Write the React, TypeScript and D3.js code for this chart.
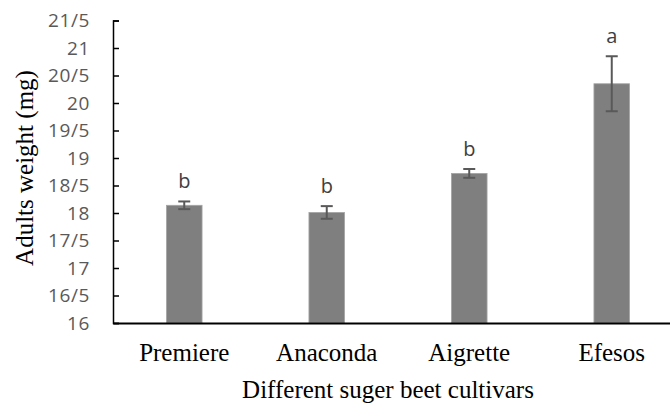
import * as d3 from "d3";
import { useEffect, useRef } from "react";

const cultivars = ["Premiere", "Anaconda", "Aigrette", "Efesos"];
const weights = [18.14, 18.01, 18.72, 20.35];
const errors = [0.07, 0.115, 0.08, 0.5];
const letters = ["b", "b", "b", "a"];
const yTicks = [16, 16.5, 17, 17.5, 18, 18.5, 19, 19.5, 20, 20.5, 21, 21.5];
const yTickLabels = ["16", "16/5", "17", "17/5", "18", "18/5", "19", "19/5", "20", "20/5", "21", "21/5"];

const W = 670;
const H = 408;

const App = () => {
  const svgRef = useRef<SVGSVGElement>(null);

  useEffect(() => {
    const margin = { top: 20.5, left: 113, right: -13, bottom: 85 };
    const svg = d3.select(svgRef.current).attr("width", W).attr("height", H);
    svg.selectAll("*").remove();

    const x = d3
      .scaleBand()
      .domain(cultivars)
      .range([margin.left, W - margin.right])
      .paddingInner(0.75)
      .paddingOuter(0.375);

    const y = d3
      .scaleLinear()
      .domain([16, 21.5])
      .range([H - margin.bottom, margin.top]);

    const data = cultivars.map((c, i) => ({
      name: c,
      value: weights[i],
      err: errors[i],
      letter: letters[i],
    }));

    // bars
    svg
      .selectAll("rect.bar")
      .data(data)
      .join("rect")
      .attr("class", "bar")
      .attr("x", (d) => x(d.name)!)
      .attr("width", x.bandwidth())
      .attr("y", (d) => y(d.value))
      .attr("height", (d) => y(16) - y(d.value))
      .attr("fill", "#7f7f7f")
      .attr("stroke", "#a5a5a5")
      .attr("stroke-width", 0.8);

    // error bars
    const cx = (d) => x(d.name)! + x.bandwidth() / 2;
    const errG = svg.append("g").attr("stroke", "#595959").attr("stroke-width", 2);
    errG
      .selectAll("line.v")
      .data(data)
      .join("line")
      .attr("x1", cx)
      .attr("x2", cx)
      .attr("y1", (d) => y(d.value + d.err))
      .attr("y2", (d) => y(d.value - d.err));
    errG
      .selectAll("line.top")
      .data(data)
      .join("line")
      .attr("x1", (d) => cx(d) - 6)
      .attr("x2", (d) => cx(d) + 6)
      .attr("y1", (d) => y(d.value + d.err))
      .attr("y2", (d) => y(d.value + d.err));
    errG
      .selectAll("line.bot")
      .data(data)
      .join("line")
      .attr("x1", (d) => cx(d) - 6)
      .attr("x2", (d) => cx(d) + 6)
      .attr("y1", (d) => y(d.value - d.err))
      .attr("y2", (d) => y(d.value - d.err));

    // significance letters
    svg
      .selectAll("text.letter")
      .data(data)
      .join("text")
      .attr("x", cx)
      .attr("y", (d) => y(d.value + d.err) - 13)
      .attr("text-anchor", "middle")
      .attr("fill", "#404040")
      .attr("font-family", "Open Sans")
      .attr("font-size", "20px")
      .text((d) => d.letter);

    // y axis
    const yAxis = d3
      .axisLeft(y)
      .tickValues(yTicks)
      .tickSize(-6)
      .tickFormat((d, i) => yTickLabels[i]);
    const yG = svg
      .append("g")
      .attr("transform", `translate(${margin.left},0)`)
      .call(yAxis);
    yG.select(".domain").attr("stroke", "#000").attr("stroke-width", 1.5);
    yG.selectAll(".tick line").attr("stroke", "#000").attr("stroke-width", 1.5);
    yG.selectAll(".tick text")
      .attr("x", -23)
      .attr("fill", "#595959")
      .attr("font-family", "Open Sans")
      .attr("font-size", "19px")
      .attr("letter-spacing", "0.6px");

    // x axis
    const xAxis = d3.axisBottom(x).tickSize(0).tickPadding(0);
    const xG = svg
      .append("g")
      .attr("transform", `translate(0,${y(16)})`)
      .call(xAxis);
    xG.select(".domain").attr("stroke", "#000").attr("stroke-width", 2);
    xG.selectAll(".tick text")
      .attr("dy", null)
      .attr("y", 38)
      .attr("fill", "#000")
      .attr("font-family", "Liberation Serif")
      .attr("font-size", "25px");

    // axis titles
    svg
      .append("text")
      .attr("x", 388)
      .attr("y", 398)
      .attr("text-anchor", "middle")
      .attr("font-family", "Liberation Serif")
      .attr("font-size", "25px")
      .attr("fill", "#000")
      .text("Different suger beet cultivars");

    svg
      .append("text")
      .attr("transform", `translate(33,168) rotate(-90)`)
      .attr("text-anchor", "middle")
      .attr("font-family", "Liberation Serif")
      .attr("font-size", "25px")
      .attr("fill", "#000")
      .text("Adults weight (mg)");
  }, []);

  return (
    <div style={{ position: "absolute", left: 0, top: 0 }}>
      <svg ref={svgRef}></svg>
    </div>
  );
};

export default App;
